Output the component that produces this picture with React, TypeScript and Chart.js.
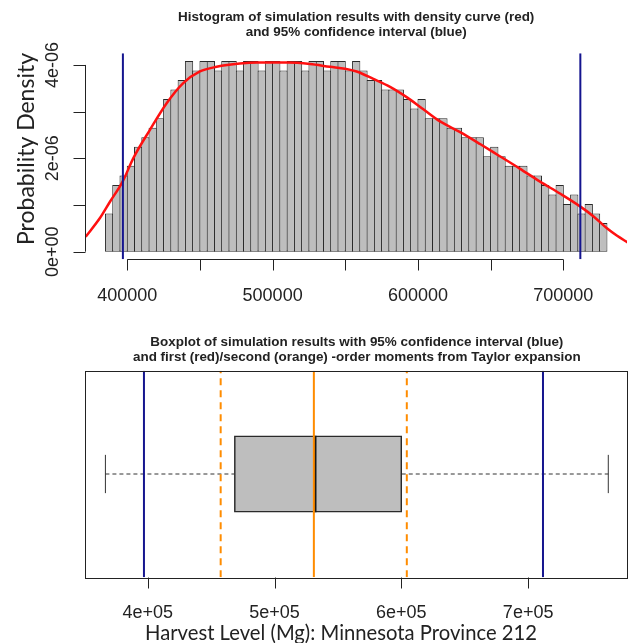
import React, { useEffect, useRef } from "react";
import { Chart, registerables } from "chart.js";

Chart.register(...registerables);

// ---------------- Histogram (top panel) ----------------
const HIST_TITLE = [
  "Histogram of simulation results with density curve (red)",
  "and 95% confidence interval (blue)",
];
const HIST_YLAB = "Probability Density";
const HIST_BREAKS = [385000, 730000];
const BIN_CENTERS = [
  387500, 392500, 397500, 402500, 407500, 412500, 417500, 422500, 427500, 432500,
  437500, 442500, 447500, 452500, 457500, 462500, 467500, 472500, 477500, 482500,
  487500, 492500, 497500, 502500, 507500, 512500, 517500, 522500, 527500, 532500,
  537500, 542500, 547500, 552500, 557500, 562500, 567500, 572500, 577500, 582500,
  587500, 592500, 597500, 602500, 607500, 612500, 617500, 622500, 627500, 632500,
  637500, 642500, 647500, 652500, 657500, 662500, 667500, 672500, 677500, 682500,
  687500, 692500, 697500, 702500, 707500, 712500, 717500, 722500, 727500,
];
const DENSITY = [
  0.817e-6, 1.43e-6, 1.634e-6, 1.839e-6, 2.247e-6, 2.452e-6, 2.656e-6, 2.86e-6, 3.269e-6, 3.473e-6,
  3.677e-6, 4.086e-6, 3.882e-6, 4.086e-6, 4.086e-6, 3.882e-6, 4.086e-6, 4.086e-6, 3.882e-6, 4.086e-6,
  4.086e-6, 3.882e-6, 4.086e-6, 4.086e-6, 3.882e-6, 4.086e-6, 4.086e-6, 3.882e-6, 4.086e-6, 4.086e-6,
  3.882e-6, 4.086e-6, 4.086e-6, 3.882e-6, 4.086e-6, 3.882e-6, 3.677e-6, 3.677e-6, 3.473e-6, 3.473e-6,
  3.473e-6, 3.269e-6, 3.065e-6, 3.269e-6, 2.86e-6, 2.86e-6, 2.86e-6, 2.656e-6, 2.656e-6, 2.452e-6,
  2.452e-6, 2.452e-6, 2.043e-6, 2.247e-6, 2.043e-6, 1.839e-6, 1.839e-6, 1.839e-6, 1.634e-6, 1.634e-6,
  1.43e-6, 1.226e-6, 1.43e-6, 1.022e-6, 1.226e-6, 0.817e-6, 1.022e-6, 0.817e-6, 0.613e-6,
];
const CURVE_X = [
  371400, 381200, 388100, 396800, 404100, 415600, 427100, 438500, 450000, 461500,
  477500, 490000, 510000, 525700, 539500, 549800, 557800, 569300, 580800, 592200,
  603700, 615200, 629000, 643000, 656000, 670000, 684000, 698000, 712000, 721000,
  730000, 737000, 744200,
];
const CURVE_Y = [
  0.32e-6, 0.72e-6, 1.07e-6, 1.5e-6, 2.0e-6, 2.61e-6, 3.18e-6, 3.61e-6, 3.86e-6, 3.96e-6,
  4.03e-6, 4.05e-6, 4.05e-6, 4.02e-6, 3.96e-6, 3.92e-6, 3.86e-6, 3.7e-6, 3.53e-6, 3.31e-6,
  3.05e-6, 2.79e-6, 2.56e-6, 2.3e-6, 2.05e-6, 1.78e-6, 1.5e-6, 1.24e-6, 0.96e-6, 0.75e-6,
  0.5e-6, 0.34e-6, 0.2e-6,
];
const CI_95 = [397000, 711700];
const HIST_X_TICKS = [400000, 450000, 500000, 550000, 600000, 650000, 700000];
const HIST_X_LABELS = ["400000", "", "500000", "", "600000", "", "700000"];
const HIST_Y_TICKS = [0, 1e-6, 2e-6, 3e-6, 4e-6];
const HIST_Y_LABELS = ["0e+00", "", "2e-06", "", "4e-06"];

// ---------------- Boxplot (bottom panel) ----------------
const BOX_TITLE = [
  "Boxplot of simulation results with 95% confidence interval (blue)",
  "and first (red)/second (orange) -order moments from Taylor expansion",
];
const BOX_XLAB = "Harvest Level (Mg): Minnesota Province 212";
const WHISKERS = [366600, 763200];
const QUARTILES = [468300, 600300];
const MEDIAN = [531900];
const TAYLOR_FIRST = [531000];
const TAYLOR_SECOND = [457500, 604300];
const BOX_X_TICKS = [400000, 500000, 600000, 700000];
const BOX_X_LABELS = ["4e+05", "5e+05", "6e+05", "7e+05"];

const BLUE = "#15158f";
const RED = "#ff1010";
const ORANGE = "#ff8c00";
const BAR_FILL = "#bebebe";
const INK = "#222222";
const TICK_FONT = '18px "Liberation Sans", Arial, sans-serif';
const TITLE_FONT = 'bold 12px "Liberation Sans", Arial, sans-serif';
const TITLE_STRETCH = 1.12;
const YLAB_FONT = '23px Lato, "Open Sans", sans-serif';
const XLAB_FONT = '21px Lato, "Open Sans", sans-serif';

function vline(x: number, y0: number, y1: number) {
  return [
    { x, y: y0 },
    { x, y: y1 },
  ];
}

function titleLine(ctx: CanvasRenderingContext2D, text: string, cx: number, cy: number) {
  ctx.save();
  ctx.translate(cx, cy);
  ctx.scale(TITLE_STRETCH, 1);
  ctx.font = TITLE_FONT;
  ctx.textAlign = "center";
  ctx.textBaseline = "middle";
  ctx.fillText(text, 0, 0);
  ctx.restore();
}

const histPlugin = {
  id: "histAxes",
  afterDraw(chart: any) {
    const { ctx, chartArea: a } = chart;
    const xs = chart.scales.x;
    const ys = chart.scales.y;
    ctx.save();
    ctx.strokeStyle = INK;
    ctx.fillStyle = INK;
    ctx.lineWidth = 1;
    const cx = (a.left + a.right) / 2;
    titleLine(ctx, HIST_TITLE[0], cx, 17.5);
    titleLine(ctx, HIST_TITLE[1], cx, 32.8);
    // x axis
    const ay = Math.round(a.bottom) + 0.5;
    ctx.beginPath();
    ctx.moveTo(xs.getPixelForValue(HIST_X_TICKS[0]), ay);
    ctx.lineTo(xs.getPixelForValue(HIST_X_TICKS[HIST_X_TICKS.length - 1]), ay);
    HIST_X_TICKS.forEach((v) => {
      const px = Math.round(xs.getPixelForValue(v)) + 0.5;
      ctx.moveTo(px, ay);
      ctx.lineTo(px, ay + 11);
    });
    ctx.stroke();
    ctx.font = TICK_FONT;
    ctx.textAlign = "center";
    ctx.textBaseline = "alphabetic";
    HIST_X_TICKS.forEach((v, i) => {
      if (HIST_X_LABELS[i]) ctx.fillText(HIST_X_LABELS[i], xs.getPixelForValue(v), a.bottom + 42);
    });
    // y axis
    const ax = Math.round(a.left) + 0.5;
    ctx.beginPath();
    ctx.moveTo(ax, ys.getPixelForValue(HIST_Y_TICKS[0]));
    ctx.lineTo(ax, ys.getPixelForValue(HIST_Y_TICKS[HIST_Y_TICKS.length - 1]));
    HIST_Y_TICKS.forEach((v) => {
      const py = Math.round(ys.getPixelForValue(v)) + 0.5;
      ctx.moveTo(ax, py);
      ctx.lineTo(ax - 12, py);
    });
    ctx.stroke();
    HIST_Y_TICKS.forEach((v, i) => {
      if (!HIST_Y_LABELS[i]) return;
      ctx.save();
      ctx.translate(a.left - 27.5, ys.getPixelForValue(v));
      ctx.rotate(-Math.PI / 2);
      ctx.fillText(HIST_Y_LABELS[i], 0, 0);
      ctx.restore();
    });
    // y label
    ctx.save();
    ctx.font = YLAB_FONT;
    ctx.translate(34, 149);
    ctx.rotate(-Math.PI / 2);
    ctx.fillText(HIST_YLAB, 0, 0);
    ctx.restore();
    ctx.restore();
  },
};

const boxPlugin = {
  id: "boxAxes",
  afterDraw(chart: any) {
    const { ctx, chartArea: a } = chart;
    const xs = chart.scales.x;
    ctx.save();
    ctx.strokeStyle = INK;
    ctx.fillStyle = INK;
    ctx.lineWidth = 1;
    // frame
    ctx.strokeRect(Math.round(a.left) + 0.5, Math.round(a.top) + 0.5, Math.round(a.right - a.left) - 1, Math.round(a.bottom - a.top));
    const cx = (a.left + a.right) / 2;
    titleLine(ctx, BOX_TITLE[0], cx, 22.7);
    titleLine(ctx, BOX_TITLE[1], cx, 37.3);
    // x axis ticks
    const by = Math.round(a.bottom) + 0.5;
    ctx.beginPath();
    BOX_X_TICKS.forEach((v) => {
      const px = Math.round(xs.getPixelForValue(v)) + 0.5;
      ctx.moveTo(px, by);
      ctx.lineTo(px, by + 11);
    });
    ctx.stroke();
    ctx.font = TICK_FONT;
    ctx.textAlign = "center";
    ctx.textBaseline = "alphabetic";
    BOX_X_TICKS.forEach((v, i) => {
      ctx.fillText(BOX_X_LABELS[i], xs.getPixelForValue(v), a.bottom + 41);
    });
    // x label
    ctx.font = XLAB_FONT;
    ctx.fillText(BOX_XLAB, 341, 320, 392);
    ctx.restore();
  },
};

function histConfig(): any {
  const span = HIST_BREAKS[1] - HIST_BREAKS[0];
  const xMin = HIST_BREAKS[0] - 0.04 * span;
  const xMax = HIST_BREAKS[1] + 0.04 * span;
  const top = Math.max(...DENSITY);
  const yMin = -0.04 * top;
  const yMax = 1.04 * top;
  return {
    type: "bar",
    data: {
      datasets: [
        {
          type: "bar",
          data: BIN_CENTERS.map((x, i) => ({ x, y: DENSITY[i] })),
          backgroundColor: BAR_FILL,
          borderColor: "#2a2a2a",
          borderWidth: 1,
          borderSkipped: false,
          categoryPercentage: 1,
          barPercentage: 1.1376,
          order: 3,
        },
        {
          type: "line",
          data: CURVE_X.map((x, i) => ({ x, y: CURVE_Y[i] })),
          borderColor: RED,
          borderWidth: 2.5,
          cubicInterpolationMode: "monotone",
          order: 2,
        },
        ...CI_95.map((v) => ({
          type: "line",
          data: vline(v, yMin, yMax),
          borderColor: BLUE,
          borderWidth: 2,
          order: 1,
        })),
      ],
    },
    options: {
      animation: false,
      responsive: false,
      events: [],
      devicePixelRatio: 1,
      layout: { padding: { left: 85.4, right: 2, top: 53.3, bottom: 60.7 } },
      elements: { point: { radius: 0 } },
      plugins: { legend: { display: false }, tooltip: { enabled: false } },
      scales: {
        x: { type: "linear", min: xMin, max: xMax, offset: false, display: false },
        y: { type: "linear", min: yMin, max: yMax, offset: false, display: false },
      },
    },
    plugins: [histPlugin],
  };
}

function boxConfig(): any {
  const span = WHISKERS[1] - WHISKERS[0];
  const xMin = WHISKERS[0] - 0.04 * span;
  const xMax = WHISKERS[1] + 0.04 * span;
  const yMin = 0.46;
  const yMax = 1.54;
  const boxWidth = 0.4;
  const dashed = { borderDash: [4, 3], borderColor: "#333", borderWidth: 1 };
  return {
    type: "bar",
    data: {
      datasets: [
        {
          type: "bar",
          indexAxis: "y",
          data: [{ x: [QUARTILES[0], QUARTILES[1]], y: 1 }],
          backgroundColor: BAR_FILL,
          borderColor: "#2a2a2a",
          borderWidth: 1.5,
          borderSkipped: false,
          barThickness: "flex",
          categoryPercentage: 1,
          barPercentage: boxWidth / (yMax - yMin),
          order: 6,
        },
        { type: "line", data: [{ x: WHISKERS[0], y: 1 }, { x: QUARTILES[0], y: 1 }], ...dashed, order: 5 },
        { type: "line", data: [{ x: QUARTILES[1], y: 1 }, { x: WHISKERS[1], y: 1 }], ...dashed, order: 5 },
        ...WHISKERS.map((v) => ({
          type: "line",
          data: vline(v, 0.9, 1.1),
          borderColor: "#333",
          borderWidth: 1,
          order: 5,
        })),
        ...MEDIAN.map((v) => ({
          type: "line",
          data: vline(v, 1 - boxWidth / 2, 1 + boxWidth / 2),
          borderColor: "#1a1a1a",
          borderWidth: 3,
          order: 4,
        })),
        ...TAYLOR_SECOND.map((v) => ({
          type: "line",
          data: vline(v, yMin, yMax),
          borderColor: ORANGE,
          borderWidth: 2,
          borderDash: [7, 5],
          order: 2,
        })),
        ...TAYLOR_FIRST.map((v) => ({
          type: "line",
          data: vline(v, yMin, yMax),
          borderColor: ORANGE,
          borderWidth: 2,
          order: 2,
        })),
        ...CI_95.map((v) => ({
          type: "line",
          data: vline(v, yMin, yMax),
          borderColor: BLUE,
          borderWidth: 2,
          order: 1,
        })),
      ],
    },
    options: {
      animation: false,
      responsive: false,
      events: [],
      devicePixelRatio: 1,
      layout: { padding: { left: 85.3, right: 0.6, top: 50.7, bottom: 65.7 } },
      elements: { point: { radius: 0 } },
      plugins: { legend: { display: false }, tooltip: { enabled: false } },
      scales: {
        x: { type: "linear", min: xMin, max: xMax, offset: false, display: false },
        y: { type: "linear", min: yMin, max: yMax, offset: false, display: false },
      },
    },
    plugins: [boxPlugin],
  };
}

export default function App() {
  const topRef = useRef<HTMLCanvasElement | null>(null);
  const botRef = useRef<HTMLCanvasElement | null>(null);

  useEffect(() => {
    document.body.style.margin = "0";
    const c1 = new Chart(topRef.current as HTMLCanvasElement, histConfig());
    const c2 = new Chart(botRef.current as HTMLCanvasElement, boxConfig());
    return () => {
      c1.destroy();
      c2.destroy();
    };
  }, []);

  return (
    <div style={{ position: "absolute", left: 0, top: 0, width: 629, height: 643, background: "#ffffff", overflow: "hidden" }}>
      <canvas ref={topRef} width={629} height={320} style={{ position: "absolute", left: 0, top: 0, width: 629, height: 320 }} />
      <canvas ref={botRef} width={629} height={323} style={{ position: "absolute", left: 0, top: 320, width: 629, height: 323 }} />
    </div>
  );
}
